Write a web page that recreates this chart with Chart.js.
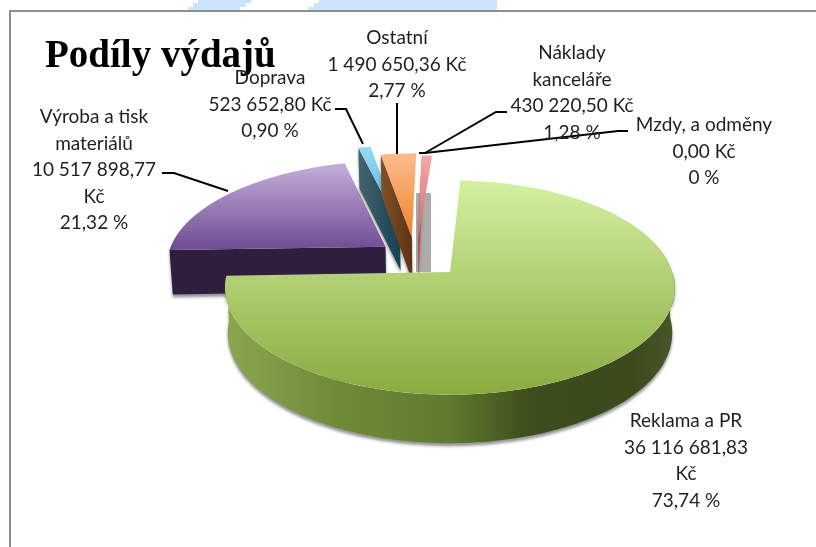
<!DOCTYPE html>
<html lang="cs">
<head>
<meta charset="utf-8">
<title>Podíly výdajů</title>
<script src="https://cdn.jsdelivr.net/npm/chart.js@4/dist/chart.umd.js"></script>
<style>
    html, body { margin: 0; padding: 0; background: #fff; }
    canvas { display: block; }
</style>
</head>
<body>
<canvas id="pie" width="816" height="547"></canvas>
<script>
/* data, clockwise from the purple slice */
const categories = ["Výroba a tisk\nmateriálů", "Doprava", "Ostatní", "Mzdy, a odměny", "Náklady\nkanceláře", "Reklama a PR"];
const amounts = [10517898.77, 523652.80, 1490650.36, 0, 430220.50, 36116681.83];
const amountLabels = ["10 517 898,77\nKč", "523 652,80 Kč", "1 490 650,36 Kč", "0,00 Kč", "430 220,50 Kč", "36 116 681,83\nKč"];
const percentLabels = ["21,32 %", "0,90 %", "2,77 %", "0 %", "1,28 %", "73,74 %"];
const chartTitle = "Podíly výdajů";

/* 3D look: perspective of the Excel pie */
const CX = 450, CY = 272, RX = 222.6, RY = 105, PERSP = 0.144;
const DEPTH = 45;

/* how far each slice is pulled out, in pie radii */
const sliceShift = [[-0.30, -0.25], [-0.24, -0.46], [-0.18, -0.35], [0, 0], [-0.15, -0.32], [0, 0]];

const sliceStyle = [
    { top: ["#c4afda", "#6f4b93"], cut: ["#2f1f3f", "#2f1f3f"] },
    { top: ["#97dcf7", "#4fa6c6"], cut: ["#466270", "#144351"] },
    { top: ["#fcbb8c", "#ef842a"], cut: ["#80502a", "#5e3312"] },
    { top: ["#fff", "#fff"], cut: ["#fff", "#fff"] },
    { top: ["#f5a6a6", "#d46a6a"], cut: ["#c9484c", "#ae5a5a"] },
    { top: ["#d4f0a2", "#89ab3f"], cut: ["#fff", "#fff"] }
];
const wallStops = [[0, "#8ba650"], [0.25, "#6f8b38"], [0.5, "#5f7a2e"], [0.68, "#3d4d1c"], [0.9, "#3b491b"], [1, "#48562a"]];

/* label centres and line pitch */
const labelPos = [[94, 117], [270, 78], [397, 38], [704, 125], [572, 53], [686, 421]];
const LINE_H = 26.5;
const leaders = [
    [[162, 173], [174, 173], [228, 191]],
    [[335, 109], [346, 109], [363, 144]],
    [[397, 103], [397, 154]],
    [[628, 131], [618, 131], [425, 153], [419, 153]],
    [[507, 112], [496, 112], [425, 153]]
];

/* blue scraps above the frame, stepped like the source */
const blueScraps = [
    [[198, 0], [251, 0], [251, 3], [246, 3], [246, 7], [240, 7], [240, 10], [188, 10], [188, 7], [193, 7], [193, 3], [198, 3]],
    [[319, 0], [497, 0], [497, 10], [308, 10], [308, 7], [314, 7], [314, 3], [319, 3]]
];

function project(u, v) {
    const w = 1 - PERSP * v;
    return [CX + RX * u / w, CY + RY * v / w];
}

function lowered(u, v) {
    const p = project(u, v);
    return [CX + (p[0] - CX) * 0.988, p[1] + DEPTH / (1 - 0.072 * v)];
}

function rimPoints(shift, from, to) {
    const pts = [];
    const n = Math.max(2, Math.ceil(Math.abs(to - from) * 40));
    for (let i = 0; i <= n; i++) {
        const a = from + (to - from) * i / n;
        pts.push([shift[0] + Math.sin(a), shift[1] - Math.cos(a)]);
    }
    return pts;
}

function fillPoly(ctx, pts, fill) {
    ctx.beginPath();
    pts.forEach((p, i) => i ? ctx.lineTo(p[0], p[1]) : ctx.moveTo(p[0], p[1]));
    ctx.closePath();
    ctx.fillStyle = fill;
    ctx.fill();
}

function gradient(ctx, pts, horizontal, stops) {
    const xs = pts.map(p => p[0]), ys = pts.map(p => p[1]);
    const g = horizontal
        ? ctx.createLinearGradient(Math.min(...xs), 0, Math.max(...xs), 0)
        : ctx.createLinearGradient(0, Math.min(...ys), 0, Math.max(...ys));
    stops.forEach(s => g.addColorStop(s[0], s[1]));
    return g;
}

/* the pie's arcs stay Chart.js elements, only their painting is replaced */
const ArcElement = Chart.registry.getElement("arc");
ArcElement.prototype.draw = function (ctx) {
    const { startAngle, endAngle } = this.getProps(["startAngle", "endAngle"]);
    const idx = this.$context.dataIndex;
    if (endAngle - startAngle < 0.001) return;

    // clockwise from 12 o'clock, start kept inside one turn
    const TWO_PI = Math.PI * 2;
    const from = (startAngle + Math.PI / 2 + TWO_PI * 4) % TWO_PI;
    const to = from + (endAngle - startAngle);
    const shift = sliceShift[idx];
    const style = sliceStyle[idx];
    const isMain = idx === categories.length - 1;

    ctx.save();
    ctx.shadowColor = "rgba(60,60,60,0.55)";
    ctx.shadowBlur = 3;
    ctx.shadowOffsetY = 3;

    if (isMain) {
        /* outer wall, front half only */
        const rim = rimPoints(shift, Math.max(from, Math.PI / 2), Math.min(to, Math.PI * 1.5));
        const poly = rim.map(p => project(p[0], p[1])).concat(rim.slice().reverse().map(p => lowered(p[0], p[1])));
        fillPoly(ctx, poly, gradient(ctx, poly, true, wallStops));
    } else {
        /* cut face on the slice's start edge */
        const end = [shift[0] + Math.sin(from), shift[1] - Math.cos(from)];
        const poly = [project(end[0], end[1]), project(shift[0], shift[1]), lowered(shift[0], shift[1]), lowered(end[0], end[1])];
        fillPoly(ctx, poly, gradient(ctx, poly, true, [[0, style.cut[0]], [1, style.cut[1]]]));
    }
    ctx.restore();

    const topPts = [project(shift[0], shift[1])].concat(rimPoints(shift, from, to).map(p => project(p[0], p[1])));
    fillPoly(ctx, topPts, gradient(ctx, topPts, false, [[0, style.top[0]], [1, style.top[1]]]));
};

const pageBackdrop = {
    id: "pageBackdrop",
    beforeDraw(chart) {
        const ctx = chart.ctx;
        ctx.save();
        ctx.fillStyle = "#fff";
        ctx.fillRect(0, 0, 816, 547);
        blueScraps.forEach(pts => fillPoly(ctx, pts, "#cce4fa"));
        /* chart frame */
        ctx.strokeStyle = "#8e8e8e";
        ctx.lineWidth = 2;
        ctx.beginPath();
        ctx.moveTo(10, 547); ctx.lineTo(10, 11); ctx.lineTo(816, 11);
        ctx.stroke();
        /* grey shadow strip behind the thin slices */
        ctx.fillStyle = "#ababab";
        ctx.fillRect(416, 193, 15, 79);
        ctx.restore();
    }
};

const sliceLabels = {
    id: "sliceLabels",
    afterDatasetsDraw(chart) {
        const ctx = chart.ctx;
        ctx.save();
        ctx.strokeStyle = "#000";
        ctx.lineWidth = 2;
        leaders.forEach(line => {
            ctx.beginPath();
            line.forEach((p, i) => i ? ctx.lineTo(p[0], p[1]) : ctx.moveTo(p[0], p[1]));
            ctx.stroke();
        });
        ctx.fillStyle = "#1f1f1f";
        ctx.font = "19px Lato, sans-serif";
        ctx.textAlign = "center";
        ctx.textBaseline = "middle";
        categories.forEach((name, i) => {
            const lines = [name, amountLabels[i], percentLabels[i]].join("\n").split("\n");
            lines.forEach((t, n) => ctx.fillText(t, labelPos[i][0], labelPos[i][1] + n * LINE_H));
        });
        ctx.restore();
    }
};

new Chart(document.getElementById("pie"), {
    type: "pie",
    data: {
        labels: categories.map(c => c.replace("\n", " ")),
        datasets: [{ data: amounts, clip: false }]
    },
    options: {
        responsive: false,
        animation: false,
        rotation: 268,
        layout: { padding: { left: 45, top: 34 } },
        plugins: {
            legend: { display: false },
            tooltip: { enabled: false },
            title: {
                display: true,
                text: chartTitle,
                align: "start",
                color: "#000",
                padding: 0,
                font: { family: "'Liberation Serif', serif", size: 39, weight: "bold" }
            }
        }
    },
    plugins: [pageBackdrop, sliceLabels]
});
</script>
</body>
</html>
